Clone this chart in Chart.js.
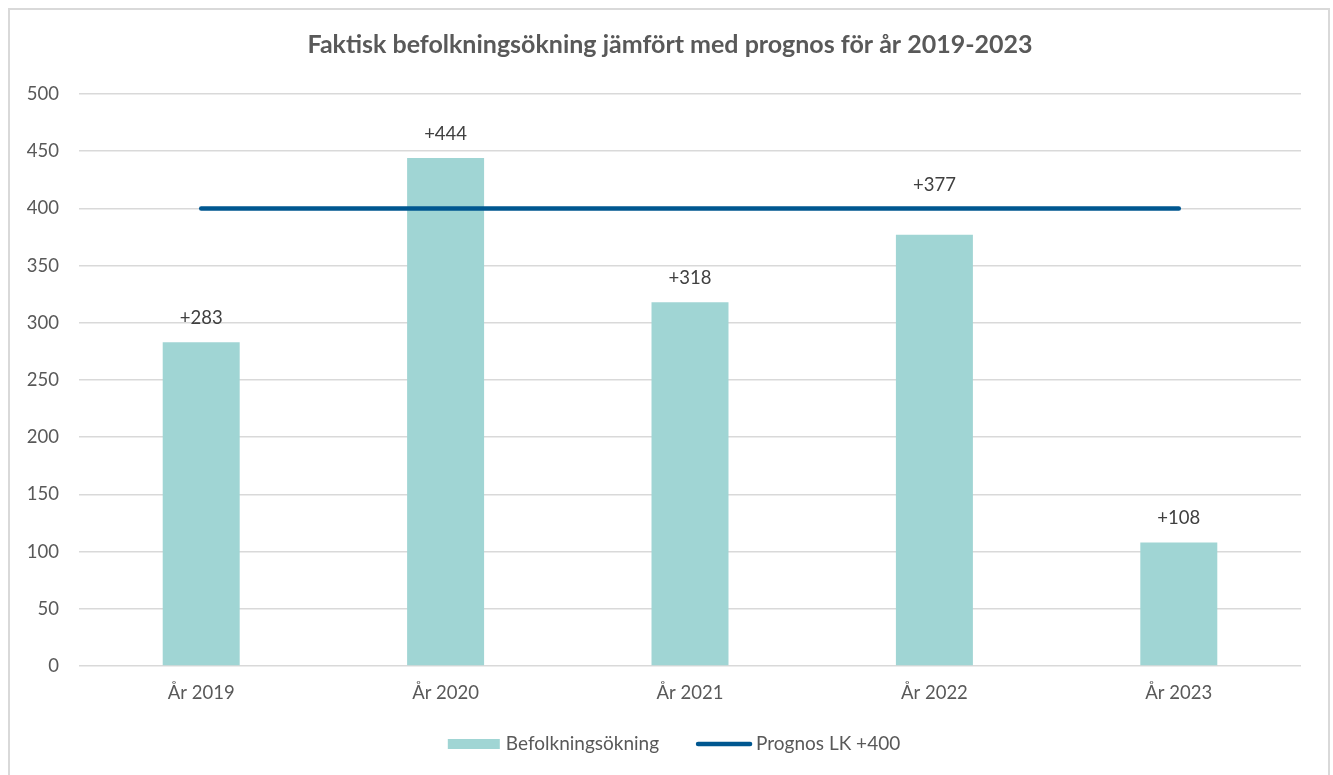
<!DOCTYPE html>
<html><head><meta charset="utf-8">
<script src="https://cdn.jsdelivr.net/npm/chart.js@4/dist/chart.umd.min.js"></script>
<style>html,body{margin:0;padding:0;background:#fff;overflow:hidden}#wrap{position:absolute;left:0;top:0;width:1333px;height:775px}</style>
</head><body><div id="wrap"><canvas id="c" width="1333" height="775"></canvas></div>
<script>
const categories = ["År 2019", "År 2020", "År 2021", "År 2022", "År 2023"];
const befolkningsokning = [283, 444, 318, 377, 108];
const prognos = [400, 400, 400, 400, 400];
const yTicks = [0, 50, 100, 150, 200, 250, 300, 350, 400, 450, 500];
const titleText = "Faktisk befolkningsökning jämfört med prognos för år 2019-2023";
const seriesNames = ["Befolkningsökning", "Prognos LK +400"];

const FONT = "Lato, 'Open Sans', sans-serif";
const BAR_COLOR = "#a0d5d4";
const LINE_COLOR = "#005790";
const TEXT = "#595959";

const borderPlugin = {
  id: 'frame',
  beforeDraw(chart) {
    const ctx = chart.ctx;
    ctx.save();
    ctx.fillStyle = '#fff';
    ctx.fillRect(0, 0, chart.width, chart.height);
    ctx.strokeStyle = '#d9d9d9';
    ctx.lineWidth = 2;
    ctx.strokeRect(9, 9, 1320, 790);
    ctx.fillStyle = TEXT;
    ctx.font = "bold 25px " + FONT;
    ctx.textAlign = 'center';
    ctx.textBaseline = 'middle';
    ctx.fillText(titleText, 670, 45);
    ctx.restore();
  }
};

const labelPlugin = {
  id: 'barLabels',
  afterDatasetsDraw(chart) {
    const ctx = chart.ctx;
    const meta = chart.getDatasetMeta(1);
    const y = chart.scales.y;
    ctx.save();
    ctx.font = "18.5px " + FONT;
    ctx.fillStyle = "#404040";
    ctx.textAlign = 'center';
    ctx.textBaseline = 'middle';
    meta.data.forEach((bar, i) => {
      let ly = bar.y - 24;
      const lineY = y.getPixelForValue(prognos[i]);
      if (Math.abs(ly - lineY) < 14) ly = lineY - 23;
      ctx.fillText('+' + befolkningsokning[i], bar.x, ly);
    });
    ctx.restore();
  }
};

const legendPlugin = {
  id: 'customLegend',
  afterDraw(chart) {
    const ctx = chart.ctx;
    ctx.save();
    ctx.font = "19px " + FONT;
    ctx.textBaseline = 'middle';
    ctx.textAlign = 'left';
    const w1 = ctx.measureText(seriesNames[0]).width;
    const w2 = ctx.measureText(seriesNames[1]).width;
    const total = 52 + 6 + w1 + 37 + 56 + 4 + w2;
    let x = 674 - total / 2;
    const cy = 744;
    ctx.fillStyle = BAR_COLOR;
    ctx.fillRect(x, cy - 5, 52, 10);
    x += 52 + 6;
    ctx.fillStyle = TEXT;
    ctx.fillText(seriesNames[0], x, cy);
    x += w1 + 37;
    ctx.strokeStyle = LINE_COLOR;
    ctx.lineWidth = 4.5;
    ctx.lineCap = 'round';
    ctx.beginPath();
    ctx.moveTo(x + 2, cy);
    ctx.lineTo(x + 54, cy);
    ctx.stroke();
    x += 56 + 4;
    ctx.fillStyle = TEXT;
    ctx.fillText(seriesNames[1], x, cy);
    ctx.restore();
  }
};

new Chart(document.getElementById('c'), {
  data: {
    labels: categories,
    datasets: [
      {
        type: 'line',
        label: seriesNames[1],
        data: prognos,
        borderColor: LINE_COLOR,
        backgroundColor: LINE_COLOR,
        borderWidth: 4.5,
        borderCapStyle: 'round',
        pointRadius: 0,
        pointHoverRadius: 0,
        fill: false,
        order: 0
      },
      {
        type: 'bar',
        label: seriesNames[0],
        data: befolkningsokning,
        backgroundColor: BAR_COLOR,
        barPercentage: 0.315,
        categoryPercentage: 1.0,
        order: 1
      }
    ]
  },
  options: {
    responsive: false,
    animation: false,
    devicePixelRatio: 1,
    layout: { padding: { left: 0, right: 32, top: 94, bottom: 69 } },
    plugins: {
      legend: { display: false },
      tooltip: { enabled: false },
      title: { display: false }
    },
    scales: {
      x: {
        grid: { display: false, drawTicks: false },
        border: { display: false },
        ticks: { color: TEXT, font: { family: FONT, size: 18.5 }, padding: 16 },
        afterFit(s) { s.height = 40; }
      },
      y: {
        min: 0, max: 500,
        afterBuildTicks(s) { s.ticks = yTicks.map(v => ({ value: v })); },
        grid: { color: '#d9d9d9', lineWidth: 1.5, drawTicks: false },
        border: { display: false },
        ticks: { color: TEXT, font: { family: FONT, size: 18.5 }, padding: 20 },
        afterFit(s) { s.width = 79; }
      }
    }
  },
  plugins: [borderPlugin, labelPlugin, legendPlugin]
});
</script></body></html>
